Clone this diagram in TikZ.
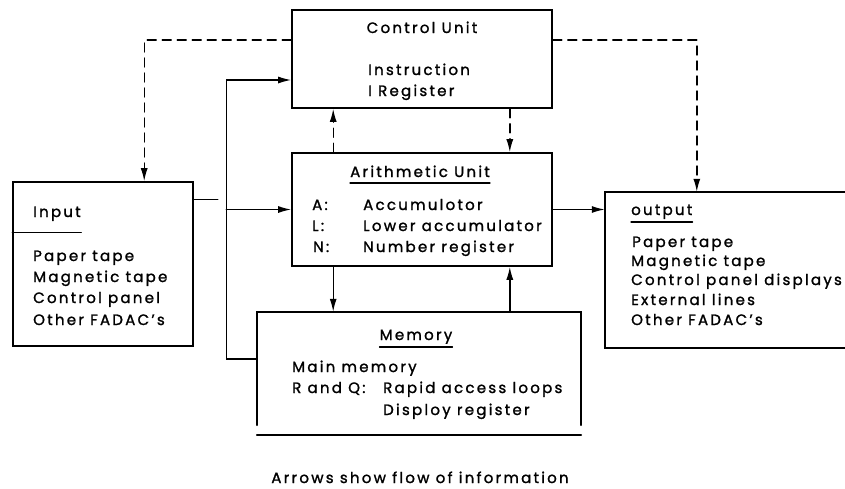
\documentclass[tikz,border=0pt]{standalone}
\usepackage{fontspec}
\setmainfont{Poppins}[LetterSpace=15,FakeBold=1.4]
\usetikzlibrary{arrows.meta}

\tikzset{
  unit/.style={draw,line width=1.6pt,inner sep=0pt},
  txt/.style={anchor=base west,inner sep=0pt,font=\fontsize{15}{21}\selectfont},
  ttl/.style={txt,anchor=base},
  flow/.style={line width=1.4pt,-{Latex[length=13pt,width=7pt]}},
  ctl/.style={flow,dash pattern=on 9pt off 6pt},
}

\begin{document}
\begin{tikzpicture}[x=1pt,y=-1pt,line cap=round]
  \useasboundingbox (0,0) rectangle (845,488);
  % the units
  \node[unit,minimum width=260pt,minimum height=98pt] (ctrl) at (422,59) {};
  \node[unit,minimum width=260pt,minimum height=113pt] (arith) at (422,209.5) {};
  \node[inner sep=0pt,minimum width=324pt,minimum height=113pt] (mem) at (419,368.5) {};
  \node[unit,minimum width=180pt,minimum height=164pt] (inp) at (103,264) {};
  \node[inner sep=0pt,minimum width=240pt,minimum height=156pt] (outp) at (725,270) {};
  \draw[line width=1.6pt] (mem.south west) -- (mem.north west) -- (mem.north east) -- (mem.south east);
  \draw[line width=1.6pt] ([yshift=-10pt]mem.south west) -- ([yshift=-10pt]mem.south east);
  \draw[line width=1.6pt] (outp.north east) -- (outp.north west) -- (outp.south west) -- (outp.south east);
  \draw[line width=1.4pt] ([yshift=-51pt]inp.north west) -- ++(69,0);

  % texts
  \node[ttl] (ctrlT) at (422,33) {Control Unit};
  \node[txt] at (368,75) {Instruction};
  \node[txt] at (368,96) {I Register};

  \node[ttl] (arithT) at (420,177) {Arithmetic Unit};
  \draw[line width=1.3pt] ([yshift=-6pt]arithT.base west) -- ([yshift=-6pt]arithT.base east);
  \node[txt] at (312,210) {A:};
  \node[txt] at (363,210) {Accumulotor};
  \node[txt] at (312,231) {L:};
  \node[txt] at (363,231) {Lower accumulator};
  \node[txt] at (313,252) {N:};
  \node[txt] at (363,252) {Number register};

  \node[ttl] (memT) at (416,340) {Memory};
  \draw[line width=1.3pt] ([yshift=-7pt]memT.base west) -- ([yshift=-7pt]memT.base east);
  \node[txt] at (292,372) {Main memory};
  \node[txt] at (292,393) {R and Q:};
  \node[txt] at (383,393) {Rapid access loops};
  \node[txt] at (383,415) {Disploy register};

  \node[txt] at (33,217) {Input};
  \node[txt] at (33,261) {Paper tape};
  \node[txt] at (33,282) {Magnetic tape};
  \node[txt] at (33,303) {Control panel};
  \node[txt] at (33,325) {Other FADAC's};

  \node[txt] (outT) at (631,215) {output};
  \draw[line width=1.3pt] ([yshift=-7pt]outT.base west) -- ([yshift=-7pt]outT.base east);
  \node[txt] at (632,247) {Paper tape};
  \node[txt] at (631,266) {Magnetic tape};
  \node[txt] at (631,285) {Control panel displays};
  \node[txt] at (631,305) {External lines};
  \node[txt] at (631,325) {Other FADAC's};

  \node[ttl] (note) at (420,483) {Arrows show flow of information};

  % control lines
  \draw[ctl] ([yshift=19pt]ctrl.west) -| ([xshift=132pt]inp.north west);
  \draw[ctl] ([yshift=19pt]ctrl.east) -| ([xshift=92pt]outp.north west);
  \draw[ctl] ([xshift=42pt]arith.north west) -- ([xshift=42pt]ctrl.south west);
  \draw[ctl] ([xshift=-43pt]ctrl.south east) -- ([xshift=-43pt]arith.north east);

  % data lines
  \coordinate (bus) at ([xshift=-65pt]arith.west);
  \draw[line width=1.4pt,dash pattern=on 24pt off 30pt] ([yshift=-18pt]inp.north east) -- ([yshift=-18pt]inp.north east -| bus);
  \draw[flow] (bus) -- (arith.west);
  \draw[flow] (arith.east) -- (arith.east -| outp.west);
  \draw[flow] ([xshift=42pt]arith.south west) -- ([xshift=42pt]arith.south west |- mem.north);
  \draw[flow] ([xshift=-43pt]arith.south east |- mem.north) -- ([xshift=-43pt]arith.south east);
  \draw[flow] ([yshift=9.5pt]mem.west) -| ([xshift=-65pt,yshift=-21pt]ctrl.west) -- ([yshift=-21pt]ctrl.west);
\end{tikzpicture}
\end{document}
